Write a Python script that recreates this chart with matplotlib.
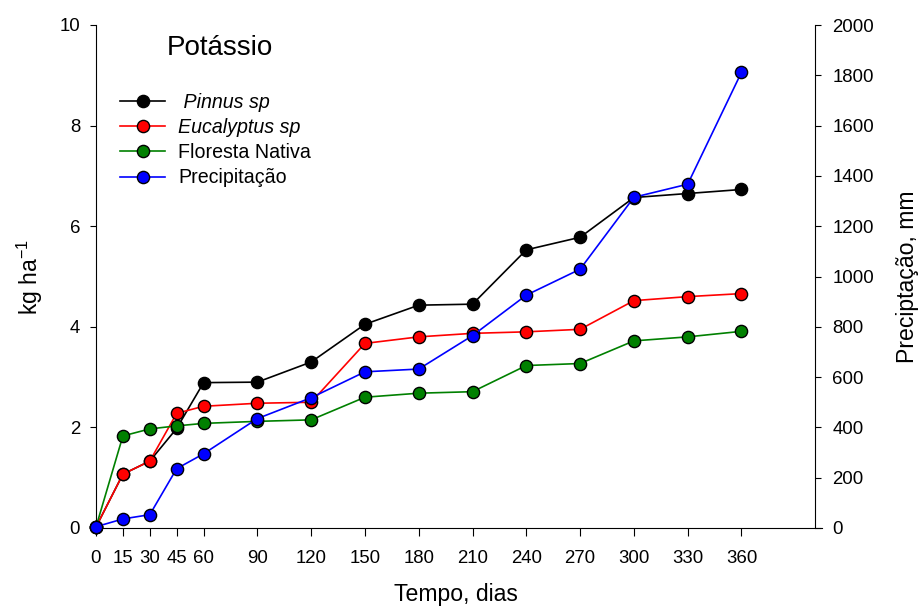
import numpy as np
import matplotlib.pyplot as plt
from matplotlib.lines import Line2D

plt.rcParams["font.family"] = ["Liberation Sans", "DejaVu Sans"]

# dias de coleta
dias = [0, 15, 30, 45, 60, 90, 120, 150, 180, 210, 240, 270, 300, 330, 360]

# potássio acumulado (kg/ha)
pinnus = [0.02, 1.07, 1.33, 1.98, 2.89, 2.90, 3.30, 4.05, 4.43, 4.45, 5.53, 5.78, 6.57, 6.65, 6.73]
eucalyptus = [0.02, 1.07, 1.33, 2.28, 2.42, 2.48, 2.50, 3.67, 3.80, 3.87, 3.90, 3.95, 4.52, 4.60, 4.66]
floresta = [0.02, 1.83, 1.97, 2.03, 2.08, 2.12, 2.15, 2.60, 2.68, 2.71, 3.23, 3.27, 3.72, 3.80, 3.91]

# precipitação acumulada (mm)
precip = [5, 36, 53, 236, 295, 435, 518, 621, 632, 765, 926, 1029, 1315, 1367, 1812]

left_ticks = [0, 2, 4, 6, 8, 10]
right_ticks = [0, 200, 400, 600, 800, 1000, 1200, 1400, 1600, 1800, 2000]

fig = plt.figure(figsize=(9.2, 6.13), dpi=100)
ax = fig.add_axes([96 / 920, 1 - 528 / 613, (815 - 96) / 920, (528 - 25) / 613])
ax2 = ax.twinx()

MS = 8.8
mk = dict(marker="o", markersize=MS, markeredgecolor="black",
          markeredgewidth=1.0, linewidth=1.2, clip_on=False)

ax.plot(dias, pinnus, color="black", markerfacecolor="black", **mk)
ax.plot(dias, eucalyptus, color="red", markerfacecolor="red", **mk)
ax.plot(dias, floresta, color="green", markerfacecolor="green", **mk)
ax2.plot(dias, precip, color="blue", markerfacecolor="blue", **mk)

ax.set_xlim(0, 401)
ax.set_ylim(0, 10)
ax2.set_ylim(0, 2000)

for a in (ax, ax2):
    a.spines["top"].set_visible(False)
    a.patch.set_visible(False)
ax2.spines["left"].set_visible(False)
ax2.spines["bottom"].set_visible(False)
ax.spines["right"].set_visible(False)
ax.spines["bottom"].set_bounds(0, 405)

FS = 13.4
ax.set_xticks(dias)
ax.set_xticklabels([str(d) for d in dias], fontsize=FS)
ax.tick_params(axis="x", direction="out", length=5.5, pad=10)
ax.set_yticks(left_ticks)
ax.set_yticklabels([str(v) for v in left_ticks], fontsize=FS)
ax.tick_params(axis="y", direction="out", length=4.5, pad=7)
ax2.set_yticks(right_ticks)
ax2.set_yticklabels([str(v) for v in right_ticks], fontsize=FS)
ax2.tick_params(axis="y", direction="out", length=4, pad=8.5)

ax.set_xlabel("Tempo, dias", fontsize=16.6, labelpad=12)
ax.set_ylabel("kg ha$^{\\mathregular{-1}}$", fontsize=16.6, labelpad=10)
ax2.set_ylabel("Preciptação, mm", fontsize=16.6, labelpad=16)

ax.text(0.1725, 0.954, "Potássio", transform=ax.transAxes, fontsize=20,
        ha="center", va="center")

handles = [
    Line2D([], [], color=c, marker="o", markerfacecolor=c, markeredgecolor="black",
           markersize=MS, linewidth=1.2)
    for c in ("black", "red", "green", "blue")
]
labels = [" Pinnus sp", "Eucalyptus sp", "Floresta Nativa", "Precipitação"]
leg = ax2.legend(handles, labels, loc="upper left", bbox_to_anchor=(0.0225, 0.881),
                 frameon=False, fontsize=14.1, handlelength=2.3,
                 handletextpad=0.67, labelspacing=0.32, borderaxespad=0)
for t in leg.get_texts()[:2]:
    t.set_style("italic")

fig.savefig("out.png", dpi=100)
